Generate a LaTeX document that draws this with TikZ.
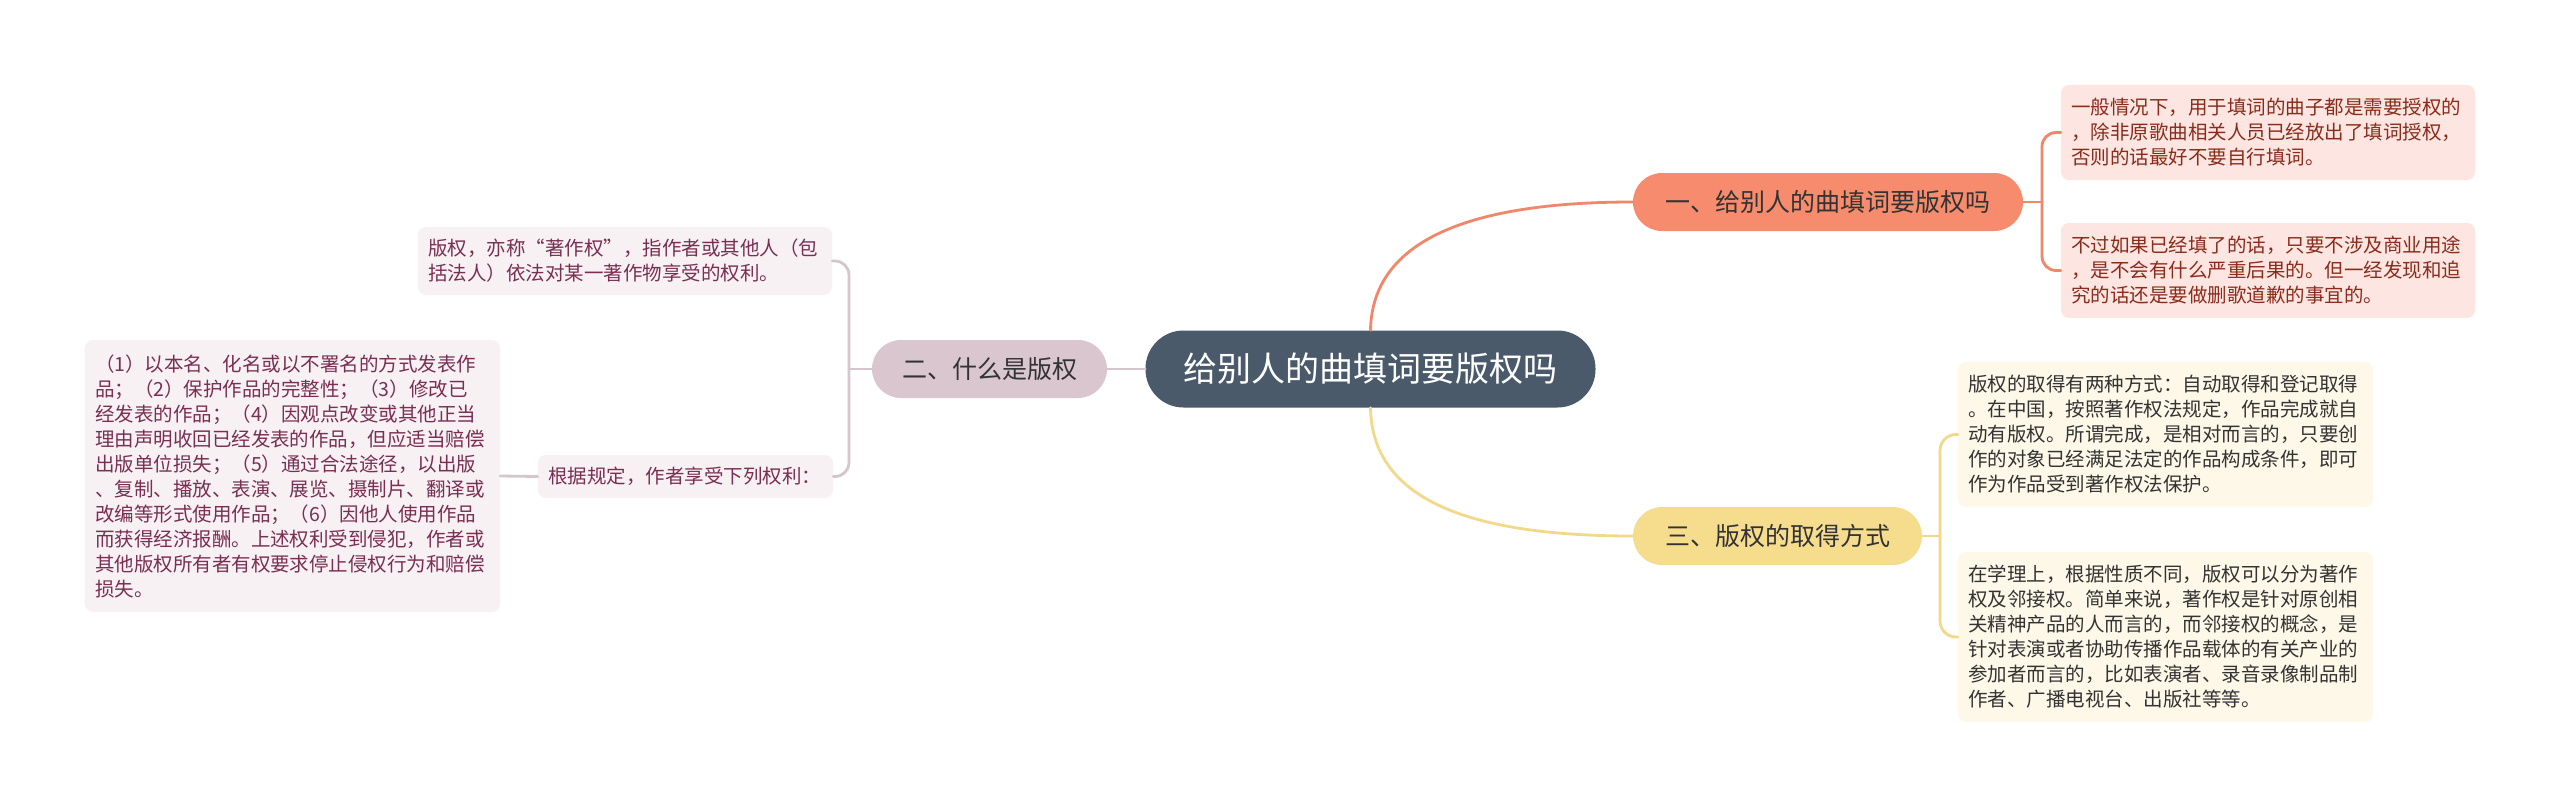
\documentclass[tikz,border=0pt]{standalone}
\usepackage{fontspec}
\newfontfamily\cjk{Noto Sans CJK SC}
\definecolor{cmain}{HTML}{4A5A6A}
\definecolor{cone}{HTML}{F68B6D}
\definecolor{ctwo}{HTML}{D9C6CF}
\definecolor{cthree}{HTML}{F6DD8E}
\definecolor{lone}{HTML}{FDE6E1}
\definecolor{ltwo}{HTML}{F7F1F4}
\definecolor{lthree}{HTML}{FDF8E8}
\definecolor{tone}{HTML}{8A2B1B}
\definecolor{ttwo}{HTML}{7A2E52}
\definecolor{tthree}{HTML}{333333}
\definecolor{kone}{HTML}{F0876A}
\definecolor{ktwo}{HTML}{D6C5CC}
\definecolor{kthree}{HTML}{F2D98A}
\tikzset{
  central/.style={fill=cmain, text=white, rounded corners=38pt, minimum width=450pt, minimum height=77pt, inner sep=0pt, font=\cjk\fontsize{34}{40}\selectfont},
  branch/.style={rounded corners=29pt, minimum height=58pt, inner sep=0pt, text=tthree, font=\cjk\fontsize{25}{30}\selectfont},
  leaf/.style={rounded corners=8pt, inner xsep=10pt, inner ysep=0pt, align=left, font=\cjk\fontsize{19.5}{25}\selectfont},
  leafone/.style={leaf, fill=lone, text=tone},
  leaftwo/.style={leaf, fill=ltwo, text=ttwo},
  leafthree/.style={leaf, fill=lthree, text=tthree},
  link/.style={line width=2.8pt, line cap=round},
}
\begin{document}
\begin{tikzpicture}[x=1pt,y=-1pt]
\useasboundingbox[fill=white] (0,0) rectangle (2560,808);

% nodes
\node[central] (c) at (1370.5,369) {给别人的曲填词要版权吗};
\node[branch, fill=cone, minimum width=390pt] (b1) at (1828,202) {一、给别人的曲填词要版权吗};
\node[branch, fill=ctwo, minimum width=235pt] (b2) at (989.5,369) {二、什么是版权};
\node[branch, fill=cthree, minimum width=289pt] (b3) at (1777.5,536) {三、版权的取得方式};

\node[leafone, text width=394pt, minimum height=95pt] (l1a) at (2268,132.5) {一般情况下，用于填词的曲子都是需要授权的\\，除非原歌曲相关人员已经放出了填词授权，\\否则的话最好不要自行填词。};
\node[leafone, text width=394pt, minimum height=95pt] (l1b) at (2268,270.5) {不过如果已经填了的话，只要不涉及商业用途\\，是不会有什么严重后果的。但一经发现和追\\究的话还是要做删歌道歉的事宜的。};

\node[leafthree, text width=395pt, minimum height=145pt] (l3a) at (2165.5,434.5) {版权的取得有两种方式：自动取得和登记取得\\。在中国，按照著作权法规定，作品完成就自\\动有版权。所谓完成，是相对而言的，只要创\\作的对象已经满足法定的作品构成条件，即可\\作为作品受到著作权法保护。};
\node[leafthree, text width=395pt, minimum height=170pt] (l3b) at (2165.5,637) {在学理上，根据性质不同，版权可以分为著作\\权及邻接权。简单来说，著作权是针对原创相\\关精神产品的人而言的，而邻接权的概念，是\\针对表演或者协助传播作品载体的有关产业的\\参加者而言的，比如表演者、录音录像制品制\\作者、广播电视台、出版社等等。};

\node[leaftwo, text width=394pt, minimum height=68pt] (l2a) at (625,261) {版权，亦称“著作权”，指作者或其他人（包\\括法人）依法对某一著作物享受的权利。};
\node[leaftwo, text width=275pt, minimum height=43pt] (l2b) at (685.5,476.5) {根据规定，作者享受下列权利：};
\node[leaftwo, text width=395pt, minimum height=272pt] (l2c) at (292.5,476) {（1）以本名、化名或以不署名的方式发表作\\品；（2）保护作品的完整性；（3）修改已\\经发表的作品；（4）因观点改变或其他正当\\理由声明收回已经发表的作品，但应适当赔偿\\出版单位损失；（5）通过合法途径，以出版\\、复制、播放、表演、展览、摄制片、翻译或\\改编等形式使用作品；（6）因他人使用作品\\而获得经济报酬。上述权利受到侵犯，作者或\\其他版权所有者有权要求停止侵权行为和赔偿\\损失。};

% junction points
\coordinate (j1) at (2042,202);
\coordinate (j2) at (849,369);
\coordinate (j3) at (1940,536);

% main connectors
\draw[link, kone] (c.north) .. controls (1372,240) and (1470,202) .. (b1.west);
\draw[link, kthree] (c.south) .. controls (1372,500) and (1470,536) .. (b3.west);
\draw[link, ktwo] (c.west) -- (b2.east);

% brackets
\draw[link, kone] (b1.east) -- (j1);
\draw[link, kone, rounded corners=14pt] (j1) |- (l1a.west);
\draw[link, kone, rounded corners=14pt] (j1) |- (l1b.west);

\draw[link, kthree] (b3.east) -- (j3);
\draw[link, kthree, rounded corners=16pt] (j3) |- (l3a.west);
\draw[link, kthree, rounded corners=16pt] (j3) |- (l3b.west);

\draw[link, ktwo] (b2.west) -- (j2);
\draw[link, ktwo, rounded corners=14pt] (j2) |- (l2a.east);
\draw[link, ktwo, rounded corners=14pt] (j2) |- (l2b.east);
\draw[link, ktwo] (l2b.west) -- (l2c.east);
\end{tikzpicture}
\end{document}
